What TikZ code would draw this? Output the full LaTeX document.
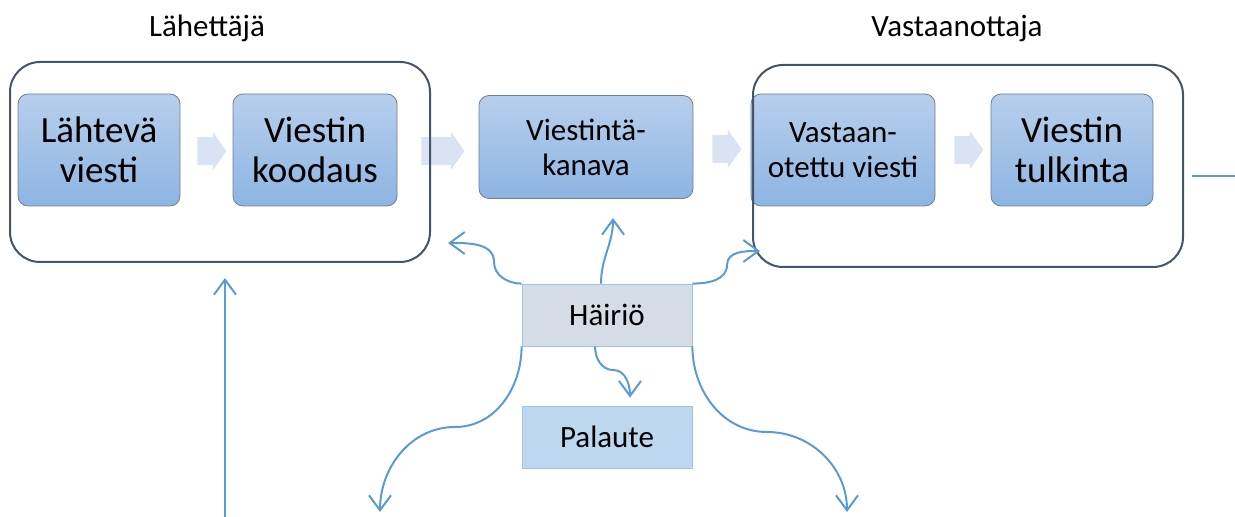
\documentclass[tikz,border=0pt]{standalone}
\usepackage{fontspec}
\setmainfont{Carlito}
\usetikzlibrary{shapes.arrows, arrows.meta}
\definecolor{stagetop}{HTML}{B7CFEC}
\definecolor{stagebot}{HTML}{8EB4E3}
\definecolor{stageline}{HTML}{6E7F91}
\definecolor{partyline}{HTML}{44546A}
\definecolor{flowfill}{HTML}{DAE3F3}
\definecolor{noiseblue}{HTML}{5B9BD5}
\definecolor{noisefill}{HTML}{D6DCE5}
\definecolor{feedfill}{HTML}{BDD7EE}
\definecolor{boxline}{HTML}{9DC3E6}
\tikzstyle{stage} = [rectangle, rounded corners=5pt, minimum width=81pt, minimum height=56pt, text centered, align=center, draw=stageline, top color=stagetop, bottom color=stagebot, font=\fontsize{18.5}{20}\selectfont, inner sep=0pt]
\tikzstyle{smallstage} = [stage, font=\fontsize{15.5}{17.5}\selectfont]
\tikzstyle{party} = [rectangle, rounded corners=15pt, draw=partyline, line width=1pt]
\tikzstyle{flow} = [single arrow, fill=flowfill, minimum height=14.5pt, inner xsep=0pt, inner ysep=6.75pt, single arrow head extend=2.75pt, single arrow tip angle=110]
\tikzstyle{plain} = [rectangle, minimum width=85pt, minimum height=31pt, draw=boxline, font=\fontsize{15.5}{17.5}\selectfont]
\tikzstyle{title} = [font=\fontsize{15.5}{17.5}\selectfont]
\tikzstyle{arrow} = [draw=noiseblue, line width=1pt, -{Straight Barb[length=7.5pt, width=11pt]}]
\tikzstyle{line} = [draw=noiseblue, line width=1pt]

\begin{document}
\begin{tikzpicture}[x=0.5pt, y=-0.5pt]
\useasboundingbox (0,0) rectangle (1235,517);

\node (lahettaja) [title] at (207,28) {Lähettäjä};
\node (vastaanottaja) [title] at (957,28) {Vastaanottaja};

\node (lahteva) [stage] at (99,150) {Lähtevä\\viesti};
\node (koodaus) [stage, minimum width=82pt] at (315,150) {Viestin\\koodaus};
\node (kanava) [smallstage, minimum width=107pt, minimum height=51.5pt] at (586,147) {Viestintä-\\kanava};
\node (vastaan) [smallstage, minimum width=92pt] at (843,150) {Vastaan-\\otettu viesti};
\node (tulkinta) [stage] at (1072,150) {Viestin\\tulkinta};

\node (flow1) [flow] at (207,151) {};
\node (flow2) [flow, minimum height=21.5pt] at (438,151) {};
\node (flow3) [flow] at (722,149) {};
\node (flow4) [flow] at (964,150) {};

\node (sender) [party, minimum width=210pt, minimum height=100pt] at (220,162) {};
\node (receiver) [party, minimum width=215pt, minimum height=101pt] at (968,166) {};

\node (hairio) [plain, fill=noisefill] at (607,315) {Häiriö};
\node (palaute) [plain, fill=feedfill] at (607,437) {Palaute};

\coordinate (tosender) at (448,243);
\coordinate (tochannel) at (613,218);
\coordinate (toreceiver) at (760,251);
\coordinate (leftout) at (380,512);
\coordinate (rightout) at (847,512);
\coordinate (feedstart) at (225,517);
\coordinate (feedend) at (225,278);
\coordinate (outstart) at (1192,176);
\coordinate (outend) at (1235,176);

\draw [arrow] (hairio.north west) to[out=180, in=-90] (494,262) to[out=90, in=0] (tosender);
\draw [arrow] ([xshift=-3pt]hairio.north) to[out=90, in=-90] (tochannel);
\draw [arrow] (hairio.north east) to[out=0, in=-90] (727,265) to[out=90, in=180] (toreceiver);
\draw [arrow] (hairio.south west) to[out=-90, in=0] (455,427) to[out=180, in=90] (leftout);
\draw [arrow] ([xshift=-6pt]hairio.south) to[out=-90, in=180] (613,370) to[out=0, in=90] ([xshift=11.5pt, yshift=4pt]palaute.north);
\draw [arrow] (hairio.south east) to[out=-90, in=180] (767,432) to[out=0, in=90] (rightout);
\draw [arrow] (feedstart) -- (feedend);
\draw [line] (outstart) -- (outend);

\end{tikzpicture}
\end{document}
